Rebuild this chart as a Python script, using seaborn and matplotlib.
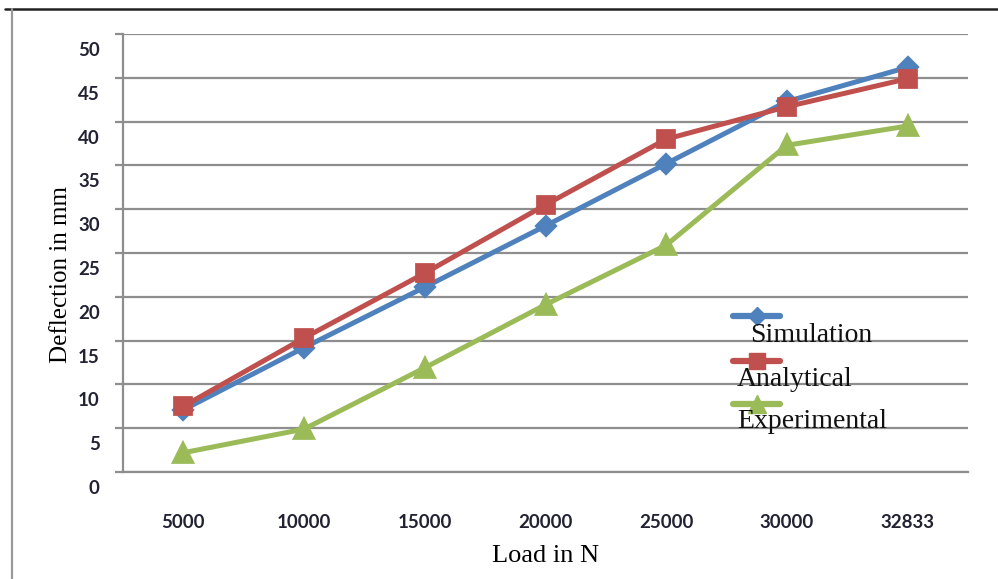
import matplotlib
matplotlib.use("Agg")
import matplotlib.pyplot as plt
import matplotlib.transforms as mtransforms
from matplotlib.lines import Line2D
import pandas as pd
import seaborn as sns

# Load cases (N) and measured / computed deflections (mm)
loads = ["5000", "10000", "15000", "20000", "25000", "30000", "32833"]
simulation = [7.1, 14.2, 21.1, 28.1, 35.2, 42.3, 46.2]
analytical = [7.5, 15.3, 22.7, 30.5, 38.0, 41.7, 44.9]
experimental = [2.2, 4.9, 11.9, 19.1, 25.9, 37.3, 39.5]
series_names = ["Simulation", "Analytical", "Experimental"]
y_ticks = [0, 5, 10, 15, 20, 25, 30, 35, 40, 45, 50]

colors = ["#4F81BD", "#C0504D", "#9BBB59"]
markers = ["D", "s", "^"]
marker_sizes = [9, 12, 13]

df = pd.DataFrame({
    "Load": loads * 3,
    "Deflection": simulation + analytical + experimental,
    "Series": sum([[n] * len(loads) for n in series_names], []),
})

sns.set_theme(style="white")
plt.rcParams["font.family"] = ["Lato", "DejaVu Sans"]

W, H = 998, 579
fig = plt.figure(figsize=(W / 100, H / 100), dpi=100)
L, R, T, B = 123, 968, 34, 472
ax = fig.add_axes([L / W, 1 - B / H, (R - L) / W, (B - T) / H])

grid_c = "#8e8e8e"
for name, c, m, ms in zip(series_names, colors, markers, marker_sizes):
    sub = df[df["Series"] == name]
    sns.pointplot(data=sub, x="Load", y="Deflection", order=loads, color=c,
                  marker=m, markersize=ms, linewidth=3.6, errorbar=None, ax=ax)

ax.set_xlim(-0.5, len(loads) - 0.5)
ax.set_ylim(0, 50)
ax.set_yticks(y_ticks)
ax.yaxis.grid(True, color=grid_c, linewidth=1.6)
ax.xaxis.grid(False)
ax.set_axisbelow(True)
for s in ["top", "right"]:
    ax.spines[s].set_visible(False)
for s in ["left", "bottom"]:
    ax.spines[s].set_color(grid_c)
    ax.spines[s].set_linewidth(1.6)

tick_font = dict(fontsize=13.5, fontweight="bold", color="#222233")
ax.tick_params(axis="y", left=True, length=5.8, width=1.6, color=grid_c, pad=11)
ax.tick_params(axis="x", bottom=False, length=0, pad=30)
ax.set_yticklabels([str(v) for v in y_ticks], **tick_font)
ax.set_xticklabels(loads, **tick_font)
# numbers on the value axis sit a little below their gridlines
shift = mtransforms.ScaledTranslation(0, -15 / 100, fig.dpi_scale_trans)
for lab in ax.get_yticklabels():
    lab.set_transform(lab.get_transform() + shift)

serif = ["Liberation Serif", "DejaVu Serif"]
ax.set_xlabel("Load in N", family=serif, fontsize=19, color="black", labelpad=10)
ax.set_ylabel("Deflection in mm", family=serif, fontsize=18, color="black")
ax.yaxis.set_label_coords(-0.060, 0.452)

# legend: key line with its marker above each entry name
def ax_pt(px, py):
    return (px - L) / (R - L), (B - py) / (B - T)

key_rows = [316, 361, 404]
text_pos = [(750, 335), (737, 379), (737, 422)]
for name, c, m, ms, ky, (tx, ty) in zip(series_names, colors, markers,
                                         marker_sizes, key_rows, text_pos):
    x0, y0 = ax_pt(733, ky)
    x1, _ = ax_pt(780, ky)
    ax.add_line(Line2D([x0, x1], [y0, y0], transform=ax.transAxes, color=c,
                       linewidth=4.5, clip_on=False))
    ax.add_line(Line2D([(x0 + x1) / 2], [y0], transform=ax.transAxes, color=c,
                       marker=m, markersize=ms, linestyle="none", clip_on=False))
    px, py = ax_pt(tx, ty)
    ax.text(px, py, name, transform=ax.transAxes, family=serif, fontsize=20,
            color="#111111", ha="left", va="center")

# frame lines of the figure
fig.add_artist(Line2D([5 / W, 1], [1 - 9 / H, 1 - 9 / H], color="#222222",
                      linewidth=1.8))
fig.add_artist(Line2D([12 / W, 12 / W], [0, 1 - 9 / H], color="#999999",
                      linewidth=1.6))

fig.savefig("out.png", dpi=100)
